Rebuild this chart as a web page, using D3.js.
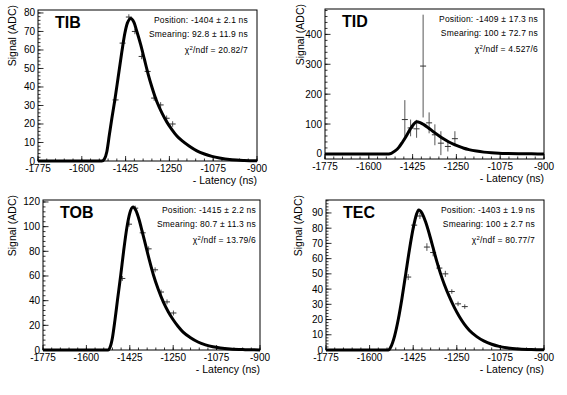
<!DOCTYPE html>
<html lang="en">
<head>
<meta charset="utf-8">
<title>Latency scans</title>
<script src="https://d3js.org/d3.v7.min.js"></script>
<style>
  body { margin: 0; background: #fff; }
  svg text { font-family: "Liberation Sans", Arial, sans-serif; fill: #000; }
  .tick-label { font-size: 10px; }
  .axis-title { font-size: 10.5px; }
  .panel-name { font-size: 16px; font-weight: bold; }
  .stats { font-size: 8.5px; letter-spacing: 0.2px; }
</style>
</head>
<body>
<div id="vis"></div>
<script>
// x axis (ns), shared by all panels
const xTicks = [-1775, -1600, -1425, -1250, -1075, -900];

// TIB
const tibX   = [-1465, -1437, -1412, -1388, -1361, -1337, -1311, -1285, -1261, -1237];
const tibY   = [33, 63.7, 77.8, 70, 56.5, 48.4, 34, 30.3, 23.1, 20];
const tibErr = [1.5, 1.5, 1.5, 1.5, 1.5, 1.5, 1.5, 1.5, 1.5, 1.5];
const tibFitX = [-1775, -1520, -1510, -1500, -1490, -1480, -1468, -1455, -1440, -1428, -1418, -1404, -1392, -1380, -1365, -1350, -1335, -1320, -1300, -1280, -1260, -1240, -1220, -1200, -1170, -1140, -1110, -1080, -1050, -1000, -950, -900];
const tibFitY = [0, 0, 1, 5, 14, 23, 33, 45, 59, 69, 74.5, 77, 75, 70, 63, 55, 47, 40, 32, 26, 21, 17, 13.5, 11, 8, 5.5, 3.8, 2.5, 1.6, 0.7, 0.3, 0.1];
const tibYTicks = [0, 10, 20, 30, 40, 50, 60, 70, 80];

// TID
const tidX   = [-1456, -1433, -1409, -1383, -1359, -1336, -1312, -1284, -1256];
const tidY   = [115, 87, 84, 294, 104, 64, 36, 25, 51];
const tidErr = [65, 28, 30, 172, 35, 35, 40, 17, 25];
const tidFitX = [-1775, -1520, -1510, -1495, -1480, -1465, -1450, -1435, -1420, -1409, -1395, -1380, -1360, -1340, -1320, -1300, -1280, -1260, -1240, -1220, -1200, -1170, -1140, -1110, -1080, -1050, -1000, -950, -900];
const tidFitY = [0, 0, 2, 10, 22, 40, 60, 82, 100, 108, 105, 98, 86, 73, 61, 50, 40, 32, 25, 19, 14.5, 9.5, 6, 3.8, 2.3, 1.4, 0.6, 0.2, 0.1];
const tidYTicks = [0, 100, 200, 300, 400];

// TOB
const tobX   = [-1455, -1428, -1403, -1373, -1349, -1323, -1299, -1275, -1249];
const tobY   = [58, 102, 115, 95, 82, 65, 47, 39, 30];
const tobErr = [2, 2, 2, 2, 2, 2, 2, 2, 2];
const tobFitX = [-1775, -1512, -1505, -1495, -1485, -1475, -1462, -1450, -1437, -1425, -1412, -1400, -1388, -1375, -1360, -1345, -1330, -1310, -1290, -1270, -1250, -1230, -1210, -1180, -1150, -1120, -1090, -1060, -1020, -960, -900];
const tobFitY = [0, 0, 2, 10, 24, 40, 60, 80, 99, 111, 116, 113, 106, 96, 84, 72, 61, 49, 39, 31, 24.5, 19, 14.5, 10, 6.5, 4.2, 2.6, 1.6, 0.8, 0.3, 0.1];
const tobYTicks = [0, 20, 40, 60, 80, 100, 120];

// TEC
const tecX   = [-1445, -1421, -1398, -1370, -1345, -1320, -1296, -1270, -1245, -1218];
const tecY   = [47.9, 82, 88, 67.6, 64, 53.8, 50, 38.4, 30.3, 28.5];
const tecErr = [2, 2, 2, 2.5, 2.5, 2, 2, 1.5, 1.5, 1.5];
const tecFitX = [-1775, -1525, -1515, -1500, -1485, -1470, -1455, -1440, -1425, -1412, -1403, -1390, -1375, -1360, -1345, -1330, -1315, -1300, -1280, -1260, -1240, -1220, -1200, -1170, -1140, -1110, -1080, -1050, -1000, -950, -900];
const tecFitY = [0, 0, 2, 9, 20, 34, 50, 66, 80, 89, 92, 90, 84, 76, 67, 58, 50, 43, 35, 28, 22, 17, 13, 8.8, 5.8, 3.8, 2.4, 1.5, 0.7, 0.3, 0.1];
const tecYTicks = [0, 10, 20, 30, 40, 50, 60, 70, 80, 90];

const width = 567, height = 395;
const xErrNs = 12;

const svg = d3.select("#vis").append("svg")
  .attr("width", width).attr("height", height);

const panels = [
  {name: "TIB", box: [38, 257, 10, 161], yDom: [0, 81.6], yTicks: tibYTicks, yMinor: 2,
   titleX: 12, statsR: 248,
   x: tibX, y: tibY, err: tibErr, fitX: tibFitX, fitY: tibFitY,
   stats: ["Position: -1404 \u00b1 2.1 ns", "Smearing: 92.8 \u00b1 11.9 ns", "20.82/7"]},
  {name: "TID", box: [325, 544, 9, 159], yDom: [-17, 485], yTicks: tidYTicks, yMinor: 20,
   titleX: 300, statsR: 538,
   x: tidX, y: tidY, err: tidErr, fitX: tidFitX, fitY: tidFitY,
   stats: ["Position: -1409 \u00b1 17.3 ns", "Smearing: 100 \u00b1 72.7 ns", "4.527/6"]},
  {name: "TOB", box: [43, 260, 200, 350], yDom: [0, 121.6], yTicks: tobYTicks, yMinor: 4,
   titleX: 12, statsR: 256,
   x: tobX, y: tobY, err: tobErr, fitX: tobFitX, fitY: tobFitY,
   stats: ["Position: -1415 \u00b1 2.2 ns", "Smearing: 80.7 \u00b1 11.3 ns", "13.79/6"]},
  {name: "TEC", box: [326, 544, 200, 350], yDom: [0, 98.5], yTicks: tecYTicks, yMinor: 2,
   titleX: 298, statsR: 535,
   x: tecX, y: tecY, err: tecErr, fitX: tecFitX, fitY: tecFitY,
   stats: ["Position: -1403 \u00b1 1.9 ns", "Smearing: 100 \u00b1 2.7 ns", "80.77/7"]}
];

panels.forEach(p => {
  const [x0, x1, y0, y1] = p.box;
  const xScale = d3.scaleLinear().domain([-1775, -900]).range([x0, x1]);
  const yScale = d3.scaleLinear().domain(p.yDom).range([y1, y0]);
  const g = svg.append("g");

  // y axis ticks drawn inside the frame (ROOT style)
  const yMinorTicks = d3.range(0, p.yDom[1], p.yMinor)
    .concat(d3.range(-p.yMinor, p.yDom[0], -p.yMinor));
  g.selectAll(".ymin").data(yMinorTicks).enter().append("line")
    .attr("x1", x0).attr("x2", x0 + 2.5)
    .attr("y1", d => yScale(d)).attr("y2", d => yScale(d))
    .attr("stroke", "#000").attr("stroke-width", 0.8);
  g.selectAll(".ymaj").data(p.yTicks).enter().append("line")
    .attr("x1", x0).attr("x2", x0 + 5.5)
    .attr("y1", d => yScale(d)).attr("y2", d => yScale(d))
    .attr("stroke", "#000").attr("stroke-width", 0.8);
  g.selectAll(".ylab").data(p.yTicks).enter().append("text")
    .attr("class", "tick-label")
    .attr("x", x0 - 3).attr("y", d => yScale(d) + 3.5)
    .attr("text-anchor", "end")
    .text(d => d);

  // x axis ticks
  const xMinorTicks = d3.range(-1775, -899, 35);
  g.selectAll(".xmin").data(xMinorTicks).enter().append("line")
    .attr("x1", d => xScale(d)).attr("x2", d => xScale(d))
    .attr("y1", y1).attr("y2", y1 - 2.5)
    .attr("stroke", "#000").attr("stroke-width", 0.8);
  g.selectAll(".xmaj").data(xTicks).enter().append("line")
    .attr("x1", d => xScale(d)).attr("x2", d => xScale(d))
    .attr("y1", y1).attr("y2", y1 - 5)
    .attr("stroke", "#000").attr("stroke-width", 0.8);
  g.selectAll(".xlab").data(xTicks).enter().append("text")
    .attr("class", "tick-label")
    .attr("x", d => xScale(d)).attr("y", y1 + 11)
    .attr("text-anchor", "middle")
    .text(d => d);

  // frame
  g.append("rect")
    .attr("x", x0).attr("y", y0).attr("width", x1 - x0).attr("height", y1 - y0)
    .attr("fill", "none").attr("stroke", "#000").attr("stroke-width", 1);

  // axis titles
  g.append("text").attr("class", "axis-title")
    .attr("x", x1).attr("y", y1 + 23)
    .attr("text-anchor", "end")
    .text("- Latency (ns)");
  g.append("text").attr("class", "axis-title")
    .attr("transform", `translate(${p.titleX + 4},${y0 - 5}) rotate(-90)`)
    .attr("text-anchor", "end")
    .text("Signal (ADC)");

  // data points with error bars
  const pts = p.x.map((d, i) => ({x: d, y: p.y[i], e: p.err[i]}));
  g.selectAll(".ev").data(pts).enter().append("line")
    .attr("x1", d => xScale(d.x)).attr("x2", d => xScale(d.x))
    .attr("y1", d => yScale(d.y - d.e)).attr("y2", d => yScale(d.y + d.e))
    .attr("stroke", "#555").attr("stroke-width", 1);
  g.selectAll(".eh").data(pts).enter().append("line")
    .attr("x1", d => xScale(d.x - xErrNs)).attr("x2", d => xScale(d.x + xErrNs))
    .attr("y1", d => yScale(d.y)).attr("y2", d => yScale(d.y))
    .attr("stroke", "#333").attr("stroke-width", 1);

  // fit curve
  const fit = p.fitX.map((d, i) => [d, p.fitY[i]]);
  g.append("path").datum(fit)
    .attr("fill", "none").attr("stroke", "#000").attr("stroke-width", 3)
    .attr("d", d3.line().x(d => xScale(d[0])).y(d => yScale(d[1])).curve(d3.curveMonotoneX));

  // labels
  g.append("text").attr("class", "panel-name")
    .attr("x", x0 + 17).attr("y", y0 + 18)
    .text(p.name);
  const sx = p.statsR;
  g.append("text").attr("class", "stats").attr("x", sx).attr("y", y0 + 13)
    .attr("text-anchor", "end").text(p.stats[0]);
  g.append("text").attr("class", "stats").attr("x", sx).attr("y", y0 + 27)
    .attr("text-anchor", "end").text(p.stats[1]);
  const chi = g.append("text").attr("class", "stats").attr("x", sx).attr("y", y0 + 43)
    .attr("text-anchor", "end");
  chi.append("tspan").text("\u03c7");
  chi.append("tspan").attr("dy", -3).attr("font-size", "6px").text("2");
  chi.append("tspan").attr("dy", 3).text("/ndf = " + p.stats[2]);
});
</script>
</body>
</html>
